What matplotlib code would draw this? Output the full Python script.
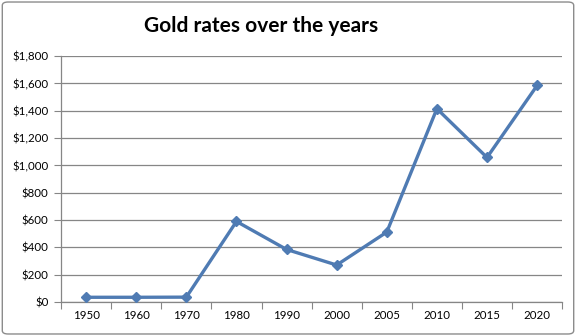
import matplotlib
matplotlib.use("Agg")
import matplotlib.pyplot as plt
from matplotlib.patches import FancyBboxPatch
from matplotlib.ticker import FuncFormatter, FixedLocator, NullFormatter

years = ['1950', '1960', '1970', '1980', '1990', '2000', '2005', '2010', '2015', '2020']
rates = [35, 35, 36, 590, 385, 271, 512, 1415, 1058, 1585]

LINE_BLUE = '#4F7BB3'
GRID_GRAY = '#868686'

plt.rcParams['font.family'] = ['Lato', 'DejaVu Sans']

fig = plt.figure(figsize=(5.76, 3.36), dpi=100)
ax = fig.add_axes([0.106, 0.101, 0.870, 0.732])

xs = list(range(len(years)))
ax.plot(xs, rates, color=LINE_BLUE, lw=2.4, marker='D', markersize=5,
        markerfacecolor=LINE_BLUE, markeredgecolor=LINE_BLUE, zorder=3)

ax.set_xlim(-0.5, len(years) - 0.5)
ax.set_ylim(0, 1800)
ax.set_yticks(range(0, 1801, 200))
ax.yaxis.set_major_formatter(FuncFormatter(lambda v, p: '${:,.0f}'.format(v)))

# tick marks sit between categories, labels at the centers
ax.xaxis.set_major_locator(FixedLocator([i - 0.5 for i in range(len(years) + 1)]))
ax.xaxis.set_major_formatter(NullFormatter())
ax.xaxis.set_minor_locator(FixedLocator(xs))
ax.set_xticklabels(years, minor=True)
ax.tick_params(axis='x', which='minor', length=0, pad=6, labelsize=8.3)
ax.tick_params(axis='x', which='major', length=5, color=GRID_GRAY, direction='out')
ax.tick_params(axis='y', length=5, color=GRID_GRAY, labelsize=8.3, pad=4)

ax.grid(axis='y', color=GRID_GRAY, lw=0.9)
ax.set_axisbelow(True)
for side in ('top', 'right'):
    ax.spines[side].set_visible(False)
for side in ('left', 'bottom'):
    ax.spines[side].set_color(GRID_GRAY)
    ax.spines[side].set_linewidth(0.9)

fig.text(0.454, 0.922, 'Gold rates over the years', ha='center', va='center',
         fontsize=15, fontweight='bold')

# outer chart border
border = FancyBboxPatch((0.004, 0.006), 0.992, 0.988, boxstyle='round,pad=0,rounding_size=0.01',
                        transform=fig.transFigure, fill=False, edgecolor='#8C8C8C', lw=1.0)
fig.patches.append(border)

fig.savefig('out.png', dpi=100)
